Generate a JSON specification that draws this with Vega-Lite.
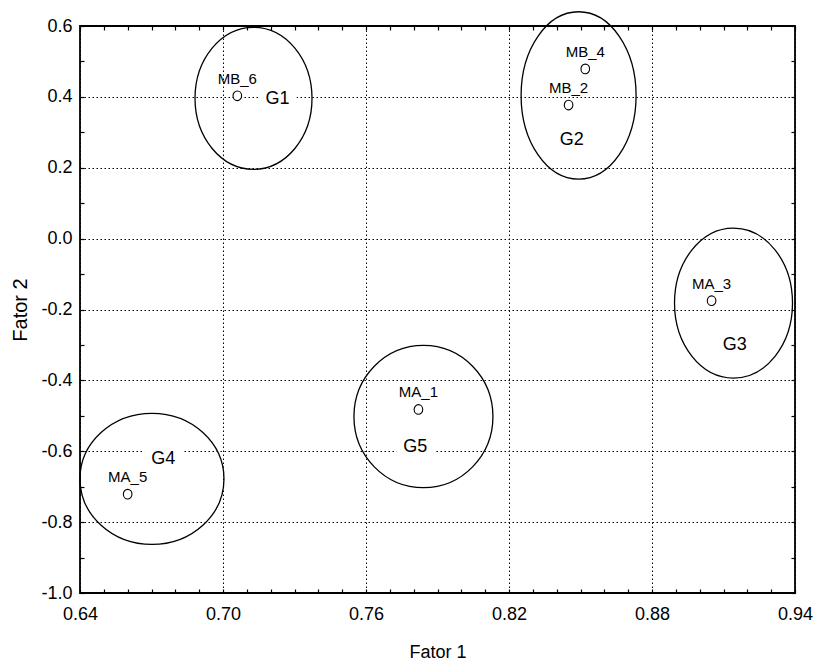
{
  "$schema": "https://vega.github.io/schema/vega-lite/v6.json",
  "width": 715,
  "height": 567,
  "autosize": "none",
  "padding": {"left": 80, "top": 26, "right": 21, "bottom": 71},
  "background": "white",
  "config": {
    "font": "Liberation Sans, Arial, sans-serif",
    "view": {"stroke": "black", "strokeWidth": 1.8},
    "axis": {
      "labelFont": "Liberation Sans, Arial, sans-serif",
      "titleFont": "Liberation Sans, Arial, sans-serif",
      "labelColor": "black",
      "titleColor": "black",
      "labelFontSize": 18,
      "titleFontSize": 18,
      "titleFontWeight": "normal",
      "tickColor": "black",
      "tickWidth": 1.2,
      "domain": false,
      "gridColor": "black",
      "gridDash": [1.5, 2.5],
      "gridWidth": 1
    }
  },
  "datasets": {
    "amostras": [
      {"amostra": "MB_6", "f1": 0.706, "f2": 0.403},
      {"amostra": "MB_4", "f1": 0.852, "f2": 0.479},
      {"amostra": "MB_2", "f1": 0.845, "f2": 0.377},
      {"amostra": "MA_3", "f1": 0.905, "f2": -0.175},
      {"amostra": "MA_1", "f1": 0.782, "f2": -0.482},
      {"amostra": "MA_5", "f1": 0.660, "f2": -0.721}
    ],
    "grupos": [
      {"grupo": "G1", "cx": 0.7128, "cy": 0.396, "lx": 0.7229, "ly": 0.393},
      {"grupo": "G2", "cx": 0.8492, "cy": 0.404, "lx": 0.8463, "ly": 0.277},
      {"grupo": "G3", "cx": 0.9142, "cy": -0.182, "lx": 0.9147, "ly": -0.300},
      {"grupo": "G4", "cx": 0.6702, "cy": -0.678, "lx": 0.6749, "ly": -0.621},
      {"grupo": "G5", "cx": 0.7841, "cy": -0.502, "lx": 0.7807, "ly": -0.588}
    ]
  },
  "layer": [
    {
      "data": {"name": "grupos"},
      "mark": {"type": "point", "filled": false, "stroke": "black", "strokeWidth": 1.3, "opacity": 1, "size": 40000},
      "encoding": {
        "x": {"field": "cx", "type": "quantitative", "scale": {"domain": [0.64, 0.94], "nice": false, "zero": false}, "axis": null},
        "y": {"field": "cy", "type": "quantitative", "scale": {"domain": [-1.0, 0.6], "nice": false, "zero": false}, "axis": null},
        "shape": {
          "field": "grupo",
          "type": "nominal",
          "legend": null,
          "scale": {
            "domain": ["G1", "G2", "G3", "G4", "G5"],
            "range": [
              "M -0.585 0 A 0.585 0.71 0 1 0 0.585 0 A 0.585 0.71 0 1 0 -0.585 0 Z",
              "M -0.575 0 A 0.575 0.837 0 1 0 0.575 0 A 0.575 0.837 0 1 0 -0.575 0 Z",
              "M -0.59 0 A 0.59 0.75 0 1 0 0.59 0 A 0.59 0.75 0 1 0 -0.59 0 Z",
              "M -0.72 0 A 0.72 0.655 0 1 0 0.72 0 A 0.72 0.655 0 1 0 -0.72 0 Z",
              "M -0.695 0 A 0.695 0.712 0 1 0 0.695 0 A 0.695 0.712 0 1 0 -0.695 0 Z"
            ]
          }
        }
      }
    },
    {
      "data": {"name": "grupos"},
      "mark": {"type": "point", "shape": "M -1 -0.45 H 1 V 0.45 H -1 Z", "filled": true, "fill": "white", "strokeWidth": 0, "opacity": 1, "size": 1444},
      "encoding": {
        "x": {"field": "lx", "type": "quantitative", "scale": {"domain": [0.64, 0.94], "nice": false, "zero": false}, "axis": null},
        "y": {"field": "ly", "type": "quantitative", "scale": {"domain": [-1.0, 0.6], "nice": false, "zero": false}, "axis": null}
      }
    },
    {
      "data": {"name": "grupos"},
      "mark": {"type": "text", "fontSize": 18, "align": "center", "baseline": "middle", "color": "black"},
      "encoding": {
        "x": {"field": "lx", "type": "quantitative", "scale": {"domain": [0.64, 0.94], "nice": false, "zero": false}, "axis": null},
        "y": {"field": "ly", "type": "quantitative", "scale": {"domain": [-1.0, 0.6], "nice": false, "zero": false}, "axis": null},
        "text": {"field": "grupo"}
      }
    },
    {
      "data": {"name": "amostras"},
      "mark": {"type": "point", "shape": "M -0.86 0 A 0.86 0.96 0 1 0 0.86 0 A 0.86 0.96 0 1 0 -0.86 0 Z", "filled": true, "fill": "white", "stroke": "black", "strokeWidth": 1.1, "opacity": 1, "size": 100},
      "encoding": {
        "x": {
          "field": "f1",
          "type": "quantitative",
          "scale": {"domain": [0.64, 0.94], "nice": false, "zero": false},
          "axis": {
            "orient": "bottom",
            "title": "Fator 1",
            "titlePadding": 20,
            "values": [0.64, 0.65, 0.66, 0.67, 0.68, 0.69, 0.70, 0.71, 0.72, 0.73, 0.74, 0.75, 0.76, 0.77, 0.78, 0.79, 0.80, 0.81, 0.82, 0.83, 0.84, 0.85, 0.86, 0.87, 0.88, 0.89, 0.90, 0.91, 0.92, 0.93, 0.94],
            "format": ".2f",
            "labelExpr": "round(datum.value * 100) % 6 == 4 ? datum.label : ''",
            "labelFlush": false,
            "labelOverlap": false,
            "tickSize": -4,
            "labelPadding": 16,
            "grid": true,
            "gridOpacity": {"condition": {"test": "round(datum.value * 100) % 6 != 4", "value": 0}, "value": 1}
          }
        },
        "y": {
          "field": "f2",
          "type": "quantitative",
          "scale": {"domain": [-1.0, 0.6], "nice": false, "zero": false},
          "axis": {
            "orient": "left",
            "title": "Fator 2",
            "titleFontSize": 20,
            "titlePadding": 10,
            "values": [-1.0, -0.9, -0.8, -0.7, -0.6, -0.5, -0.4, -0.3, -0.2, -0.1, 0.0, 0.1, 0.2, 0.3, 0.4, 0.5, 0.6],
            "format": ".1f",
            "labelExpr": "round(datum.value * 10) % 2 == 0 ? replace(datum.label, '\u2212', '-') : ''",
            "labelFlush": false,
            "labelOverlap": false,
            "tickSize": -4,
            "labelPadding": 12,
            "grid": true,
            "gridOpacity": {"condition": {"test": "round(datum.value * 10) % 2 != 0", "value": 0}, "value": 1}
          }
        }
      }
    },
    {
      "data": {"name": "amostras"},
      "mark": {"type": "text", "fontSize": 15, "align": "center", "baseline": "alphabetic", "dy": -12, "color": "black"},
      "encoding": {
        "x": {
          "field": "f1",
          "type": "quantitative",
          "scale": {"domain": [0.64, 0.94], "nice": false, "zero": false},
          "axis": {
            "orient": "top",
            "title": null,
            "labels": false,
            "grid": false,
            "tickSize": -4,
            "values": [0.64, 0.65, 0.66, 0.67, 0.68, 0.69, 0.70, 0.71, 0.72, 0.73, 0.74, 0.75, 0.76, 0.77, 0.78, 0.79, 0.80, 0.81, 0.82, 0.83, 0.84, 0.85, 0.86, 0.87, 0.88, 0.89, 0.90, 0.91, 0.92, 0.93, 0.94]
          }
        },
        "y": {
          "field": "f2",
          "type": "quantitative",
          "scale": {"domain": [-1.0, 0.6], "nice": false, "zero": false},
          "axis": {
            "orient": "right",
            "title": null,
            "labels": false,
            "grid": false,
            "tickSize": -4,
            "values": [-1.0, -0.9, -0.8, -0.7, -0.6, -0.5, -0.4, -0.3, -0.2, -0.1, 0.0, 0.1, 0.2, 0.3, 0.4, 0.5, 0.6]
          }
        },
        "text": {"field": "amostra"}
      }
    }
  ],
  "resolve": {"axis": {"x": "independent", "y": "independent"}}
}
